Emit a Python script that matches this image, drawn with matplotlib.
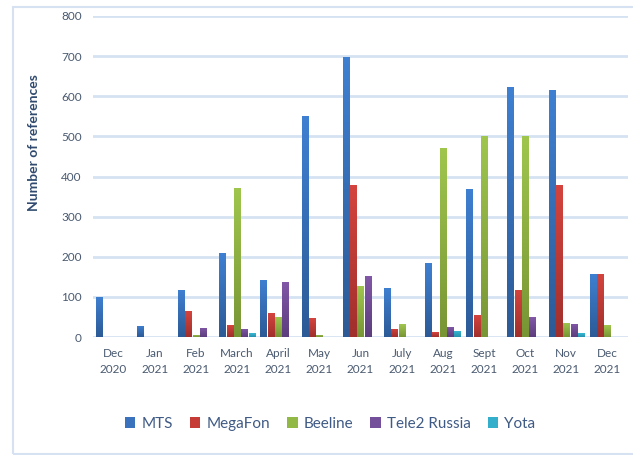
import numpy as np
import matplotlib
matplotlib.use("Agg")
import matplotlib.pyplot as plt
from matplotlib.patches import Rectangle, Patch
from matplotlib.colors import LinearSegmentedColormap

categories = ["Dec\n2020", "Jan\n2021", "Feb\n2021", "March\n2021", "April\n2021", "May\n2021",
              "Jun\n2021", "July\n2021", "Aug\n2021", "Sept\n2021", "Oct\n2021", "Nov\n2021", "Dec\n2021"]
series_names = ["MTS", "MegaFon", "Beeline", "Tele2 Russia", "Yota"]
mts     = [100, 28, 118, 209, 143, 550, 698, 123, 185, 369, 622, 616, 158]
megafon = [0, 0, 64, 29, 59, 47, 380, 20, 12, 54, 118, 380, 158]
beeline = [0, 0, 6, 372, 49, 5, 126, 32, 470, 500, 500, 36, 29]
tele2   = [0, 0, 23, 20, 138, 0, 153, 0, 26, 0, 49, 33, 0]
yota    = [0, 0, 0, 9, 0, 0, 0, 0, 15, 0, 0, 9, 0]
yticks = [0, 100, 200, 300, 400, 500, 600, 700, 800]

data = [mts, megafon, beeline, tele2, yota]
top_colors = ["#3F80D2", "#D5443E", "#A0C64E", "#8258A8", "#38BAD6"]
bot_colors = ["#2C5A96", "#A02F2C", "#789535", "#5C3D7D", "#2591AC"]
legend_colors = ["#3A72BD", "#C73B36", "#92B846", "#74509A", "#33AECB"]

plt.rcParams['font.family'] = ['Lato', 'DejaVu Sans']
W, H = 633, 455
fig = plt.figure(figsize=(W/100, H/100), dpi=100)
ax = fig.add_axes([93/W, 1-337/H, (628-93)/W, (337-16)/H])

n = len(categories)
x = np.arange(n)
step = 0.178
bw = 0.15
grad = np.linspace(1, 0, 256).reshape(-1, 1)
for i, (vals, tc, bc) in enumerate(zip(data, top_colors, bot_colors)):
    cmap = LinearSegmentedColormap.from_list(f"g{i}", [bc, tc])
    offs = x + (i - 2) * step
    bars = ax.bar(offs, vals, width=bw, color='none', edgecolor='none', zorder=3)
    for b, v in zip(bars, vals):
        if v <= 0:
            continue
        x0 = b.get_x(); x1 = x0 + b.get_width()
        im = ax.imshow(grad, extent=[x0, x1, 0, v], aspect='auto', cmap=cmap,
                       origin='upper', zorder=3, interpolation='bilinear')
        im.set_clip_path(b)

ax.set_xlim(-0.5, n - 0.5)
ax.set_ylim(0, 800)
ax.set_yticks(yticks)
ax.set_yticklabels([str(t) for t in yticks])
ax.set_xticks(x)
ax.set_xticklabels(categories, linespacing=1.55)
ax.tick_params(axis='both', length=0, labelsize=8.5, colors='#4A5A70')
ax.tick_params(axis='y', pad=8)
ax.tick_params(axis='x', pad=8)
ax.grid(axis='y', color='#D5E2F2', linewidth=2.0, zorder=0)
for s in ax.spines.values():
    s.set_visible(False)
ax.set_axisbelow(True)
ax.set_ylabel("Number of references", fontsize=10, fontweight='bold', color='#2F4A6E')
ax.yaxis.set_label_coords(-53/535, (337-143)/321)

fig.add_artist(Rectangle((13/W, 1/H), 1.0, (454-7)/H, transform=fig.transFigure,
                         fill=False, edgecolor='#D6E2F2', linewidth=1.5))

handles = [Patch(facecolor=c, edgecolor='none') for c in legend_colors]
leg = fig.legend(handles, series_names, loc='center', bbox_to_anchor=(330/W, 1-424/H),
                 ncol=5, frameon=False, fontsize=11, handlelength=0.7, handleheight=0.7,
                 handletextpad=0.4, columnspacing=1.1)
for t in leg.get_texts():
    t.set_color('#3F5A85')

fig.savefig("out.png", dpi=100)
